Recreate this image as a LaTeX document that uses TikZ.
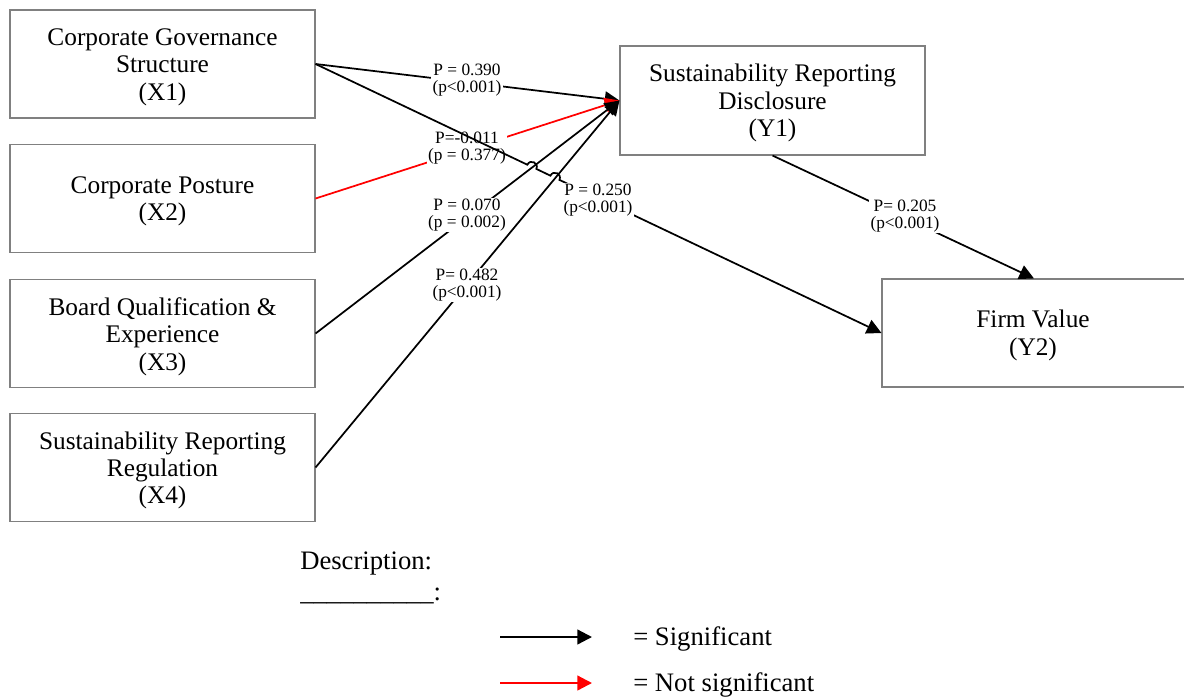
\documentclass[tikz,border=0pt]{standalone}
\usepackage{fontspec}
\setmainfont{Liberation Serif}
\usetikzlibrary{arrows.meta,calc}
\begin{document}
\begin{tikzpicture}[x=0.75pt,y=-0.75pt,
 box/.style={draw=black!50, line width=0.8pt, minimum width=228.75pt, minimum height=81pt, inner sep=0pt},
 boxtext/.style={align=center, inner sep=0pt, font=\fontsize{19}{20.5}\selectfont},
 lbl/.style={fill=white, inner sep=1pt, align=center, font=\fontsize{13}{12.8}\selectfont},
 arr/.style={line width=1.3pt, -{Triangle[length=11pt,width=11pt]}},
 sig/.style={arr, draw=black},
 nsig/.style={arr, draw=red, fill=red},
 legarr/.style={line width=1.7pt, -{Triangle[length=11pt,width=11pt]}},
 legtext/.style={anchor=base west, inner sep=0pt, font=\fontsize{20}{24}\selectfont}]
\useasboundingbox (0,0) rectangle (1184,696);
\clip (0,0) rectangle (1184,696);
% boxes
\node[box] (x1) at (162.5,64) {};
\node[box] (x2) at (162.5,198.5) {};
\node[box] (x3) at (162.5,333.5) {};
\node[box] (x4) at (162.5,467.5) {};
\node[box, minimum height=81.75pt] (y1) at (772.5,100.5) {};
\node[box, minimum width=228pt] (y2) at (1034,333) {};
% box texts
\node[boxtext] (x1t) at ($(x1.center)+(0,3)$) {Corporate Governance\\Structure\\(X1)};
\node[boxtext] (x2t) at ($(x2.center)+(0,3)$) {Corporate Posture\\(X2)};
\node[boxtext] (x3t) at ($(x3.center)+(0,3)$) {Board Qualification \&\\Experience\\(X3)};
\node[boxtext] (x4t) at ($(x4.center)+(0,3)$) {Sustainability Reporting\\Regulation\\(X4)};
\node[boxtext] (y1t) at ($(y1.center)+(0,2.5)$) {Sustainability Reporting\\Disclosure\\(Y1)};
\node[boxtext] (y2t) at ($(y2.center)+(-1,2.5)$) {Firm Value\\(Y2)};
% connectors
\draw[sig] (x1.east) -- (y1.west);
\draw[nsig] (x2.east) -- (y1.west);
\draw[sig] (x3.east) -- (y1.west);
\draw[sig] (x4.east) -- (y1.west);
\draw[sig] (y1.south) -- (y2.north);
\node[lbl] (l1) at (467,80) {P = 0.390\\(p<0.001)};
\node[lbl] (l2) at (467,148) {P=-0.011\\(p = 0.377)};
\node[lbl] (l3) at (467,215) {P = 0.070\\(p = 0.002)};
\node[lbl] (l4) at (467,285) {P= 0.482\\(p<0.001)};
\node[lbl] (l6) at (905,216) {P= 0.205\\(p<0.001)};
% X1 -> Y2 with hop-overs
\coordinate (c1) at ($(x1.east)!0.3822!(y2.west)$);
\coordinate (c2) at ($(x1.east)!0.4230!(y2.west)$);
\draw[sig] (x1.east) -- ($(c1)+(-4.5,-2.1)$)
  .. controls ($(c1)+(-1.65,-8.13)$) and ($(c1)+(7.35,-3.93)$) .. ($(c1)+(4.5,2.1)$)
  -- ($(c2)+(-4.5,-2.1)$)
  .. controls ($(c2)+(-1.65,-8.13)$) and ($(c2)+(7.35,-3.93)$) .. ($(c2)+(4.5,2.1)$)
  -- (y2.west);
\node[lbl] (l5) at (598,200) {P = 0.250\\(p<0.001)};
% legend
\node[legtext] (desc) at (300,569) {Description:};
\node[legtext] (und) at (300,600) {\_\_\_\_\_\_\_\_\_\_:};
\coordinate (s0) at (500,637);
\coordinate (s1) at (592,637);
\draw[legarr, draw=black] (s0) -- (s1);
\node[legtext] (st) at (633,645) {= Significant};
\coordinate (n0) at (500,683);
\coordinate (n1) at (592,683);
\draw[legarr, draw=red, fill=red] (n0) -- (n1);
\node[legtext] (nt) at (633,691) {= Not significant};
\end{tikzpicture}
\end{document}
